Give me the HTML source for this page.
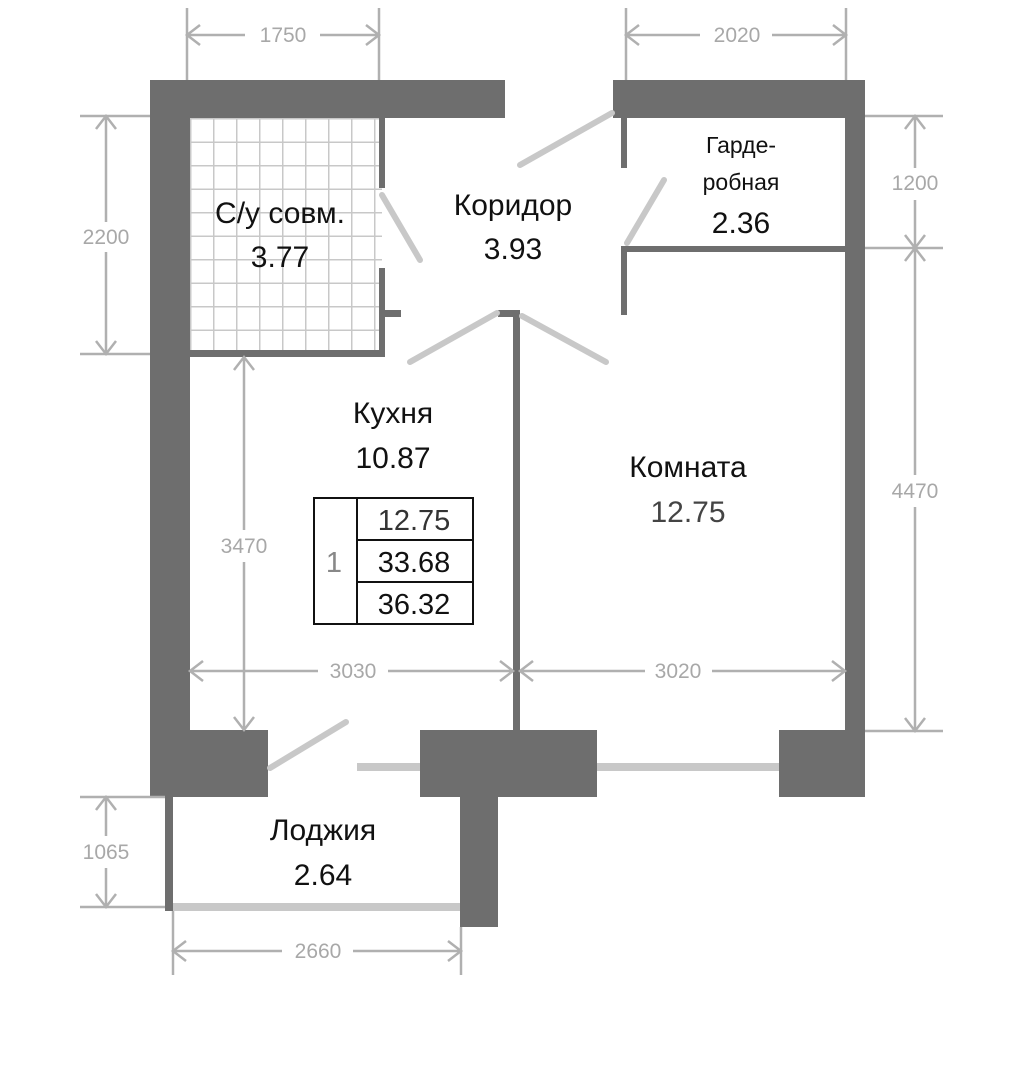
<!DOCTYPE html>
<html><head><meta charset="utf-8"><style>body{margin:0;background:#fff}svg{display:block}</style></head><body>
<svg width="1015" height="1068" xmlns="http://www.w3.org/2000/svg">
<defs><pattern id="tile" x="190" y="118" width="23" height="23.5" patternUnits="userSpaceOnUse"><path d="M0 0H23M0 0V23.5" stroke="#c8c8c8" stroke-width="3" fill="none"/></pattern></defs>
<rect x="190" y="118" width="192" height="235" fill="url(#tile)"/>
<g fill="#6e6e6e">
<rect x="150" y="80" width="355" height="38"/>
<rect x="150" y="80" width="40" height="717"/>
<rect x="379" y="118" width="6" height="70"/>
<rect x="379" y="268" width="6" height="89"/>
<rect x="385" y="310" width="16" height="7"/>
<rect x="190" y="350" width="195" height="7"/>
<rect x="150" y="730" width="118" height="67"/>
<rect x="165" y="797" width="8" height="114"/>
<rect x="460" y="797" width="38" height="130"/>
<rect x="420" y="730" width="177" height="67"/>
<rect x="779" y="730" width="85" height="67"/>
<rect x="845" y="80" width="20" height="717"/>
<rect x="613" y="80" width="252" height="38"/>
<rect x="621" y="118" width="6" height="50"/>
<rect x="621" y="246" width="224" height="6"/>
<rect x="621" y="246" width="6" height="69"/>
<rect x="513" y="310" width="7" height="420"/>
<rect x="498" y="310" width="22" height="7"/>
</g>
<g stroke="#c8c8c8" stroke-width="6" stroke-linecap="round" fill="none">
<line x1="382" y1="195" x2="420" y2="260"/>
<line x1="520" y1="165" x2="612" y2="113"/>
<line x1="627" y1="243" x2="664" y2="180"/>
<line x1="410" y1="362" x2="497" y2="313"/>
<line x1="522" y1="316" x2="606" y2="362"/>
<line x1="270" y1="768" x2="346" y2="722"/>
</g>
<g fill="#c8c8c8">
<rect x="357" y="763" width="63" height="8"/>
<rect x="597" y="763" width="182" height="8"/>
<rect x="173" y="903" width="287" height="8"/>
</g>
<g stroke="#b0b0b0" stroke-width="2.5" fill="none">
<line x1="187" y1="8" x2="187" y2="80"/><line x1="379" y1="8" x2="379" y2="80"/>
<path d="M187 35H245M320 35H379M200 25L187 35L200 45M366 25L379 35L366 45"/>
<line x1="626" y1="8" x2="626" y2="80"/><line x1="846" y1="8" x2="846" y2="80"/>
<path d="M626 35H700M772 35H846M639 25L626 35L639 45M833 25L846 35L833 45"/>
<line x1="80" y1="116" x2="150" y2="116"/><line x1="80" y1="354" x2="150" y2="354"/>
<path d="M106 116V222M106 252V354M96 129L106 116L116 129M96 341L106 354L116 341"/>
<path d="M244 357V530M244 562V730M234 370L244 357L254 370M234 717L244 730L254 717"/>
<path d="M190 671H318M388 671H513M203 661L190 671L203 681M500 661L513 671L500 681"/>
<path d="M520 671H645M712 671H845M533 661L520 671L533 681M832 661L845 671L832 681"/>
<line x1="865" y1="116" x2="943" y2="116"/><line x1="865" y1="248" x2="943" y2="248"/><line x1="865" y1="731" x2="943" y2="731"/>
<path d="M915 116V168M915 200V248M905 129L915 116L925 129M905 235L915 248L925 235"/>
<path d="M915 248V475M915 507V731M905 261L915 248L925 261M905 718L915 731L925 718"/>
<line x1="80" y1="797" x2="165" y2="797"/><line x1="80" y1="907" x2="165" y2="907"/>
<path d="M106 797V836M106 868V907M96 810L106 797L116 810M96 894L106 907L116 894"/>
<line x1="173" y1="911" x2="173" y2="975"/><line x1="461" y1="927" x2="461" y2="975"/>
<path d="M173 951H282M353 951H461M186 941L173 951L186 961M448 941L461 951L448 961"/>
</g>
<g font-family="Liberation Sans, DejaVu Sans, sans-serif" font-size="21" fill="#a8a8a8" text-anchor="middle">
<text x="283" y="42">1750</text><text x="737" y="42">2020</text>
<text x="106" y="244">2200</text><text x="244" y="553">3470</text>
<text x="353" y="678">3030</text><text x="678" y="678">3020</text>
<text x="915" y="190">1200</text><text x="915" y="498">4470</text>
<text x="106" y="859">1065</text><text x="318" y="958">2660</text>
</g>
<g font-family="Liberation Sans, DejaVu Sans, sans-serif" font-size="30" fill="#111" text-anchor="middle">
<text x="280" y="223">С/у совм.</text><text x="280" y="267">3.77</text>
<text x="513" y="215">Коридор</text><text x="513" y="259">3.93</text>
<text x="741" y="153" font-size="23">Гарде-</text><text x="741" y="190" font-size="23">робная</text><text x="741" y="233">2.36</text>
<text x="393" y="423">Кухня</text><text x="393" y="468">10.87</text>
<text x="688" y="477">Комната</text><text x="688" y="522" fill="#444">12.75</text>
<text x="323" y="840">Лоджия</text><text x="323" y="885">2.64</text>
</g>
<g stroke="#111" stroke-width="2" fill="none">
<rect x="314" y="498" width="159" height="126"/>
<line x1="357" y1="498" x2="357" y2="624"/>
<line x1="357" y1="540" x2="473" y2="540"/><line x1="357" y1="582" x2="473" y2="582"/>
</g>
<g font-family="Liberation Sans, DejaVu Sans, sans-serif" font-size="29" fill="#111" text-anchor="middle">
<text x="414" y="530" fill="#333">12.75</text><text x="414" y="572">33.68</text><text x="414" y="614">36.32</text>
<text x="334" y="572" fill="#888">1</text>
</g>
</svg>
</body></html>
